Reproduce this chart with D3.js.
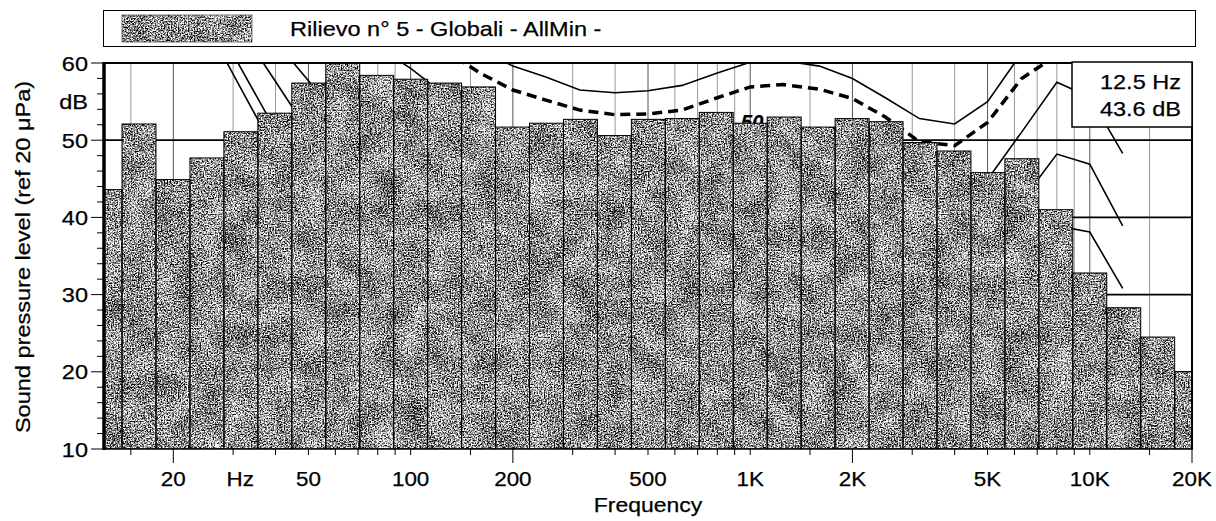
<!DOCTYPE html>
<html>
<head>
<meta charset="utf-8">
<script src="https://cdn.jsdelivr.net/npm/d3@7"></script>
<style>
  body { margin: 0; background: #fff; }
  svg { display: block; }
  text { font-family: "Liberation Sans", Arial, sans-serif; fill: #000; stroke: #000; stroke-width: 0.25px; }
</style>
</head>
<body>
<div id="chart"></div>
<script>
// 1/3 octave bands, levels in dB (ref 20 µPa)
const bandFreqs = [12.5, 16, 20, 25, 31.5, 40, 50, 63, 80, 100, 125, 160, 200, 250, 315, 400, 500, 630, 800,
  1000, 1250, 1600, 2000, 2500, 3150, 4000, 5000, 6300, 8000, 10000, 12500, 16000, 20000];
const bandLevels = [43.6, 52.1, 44.9, 47.7, 51.1, 53.5, 57.4, 60.2, 58.4, 57.9, 57.4, 56.9, 51.7, 52.2, 52.7, 50.6, 52.7, 52.8, 53.6,
  52.2, 53.0, 51.7, 52.8, 52.4, 49.7, 48.6, 45.8, 47.6, 41.0, 32.8, 28.3, 24.5, 20.0];

// reference contours (drawn behind the bars)
const contourFreqs = [20, 25, 31.5, 40, 50, 63, 80, 100, 125, 160, 200, 250, 315, 400, 500, 630, 800,
  1000, 1250, 1600, 2000, 2500, 3150, 4000, 5000, 6300, 8000, 10000, 12500];
const contourTop = [95, 90, 85, 80, 76, 72, 69, 66, 64, 61.8, 59.6, 58.2, 56.5, 56.15, 56.4, 57.1, 58.7,
  60.1, 60.3, 59.6, 58.0, 55.5, 52.8, 52.1, 55.0, 61.3, 68, 70, 67];
const contourDashed = [90, 85, 80, 75, 71, 68, 65.5, 63.5, 61.8, 58.7, 56.5, 55.2, 53.9, 53.3, 53.4, 53.9, 55.5,
  56.9, 57.2, 56.6, 55.4, 53.0, 49.8, 49.3, 52.3, 58.0, 61, 63, 61];
const contour40 = [90, 84, 78, 72, 68, 65, 62.1, 59.3, 56.0, 52, 48.5, 46.5, 45, 44, 44, 44.5, 45.5,
  47, 47.5, 47, 45.5, 43, 40, 39.5, 44.9, 51.05, 57.5, 55.6, 48.3];
const contour30 = [82, 76, 70, 62.8, 57.7, 52.4, 48, 44.5, 41.5, 39, 37, 35.5, 34.5, 34, 34, 34.5, 35.5,
  37, 37.5, 37, 35.5, 33, 30.5, 30, 35.5, 42.1, 48.2, 46.9, 38.9];
const contour20 = [78, 71, 64.5, 57.6, 51.1, 45, 40, 36, 33, 30, 28, 26.5, 25.5, 25, 25, 25.5, 26.5,
  28, 28.5, 28, 26.5, 24, 21.5, 21, 27, 33, 38.9, 38.1, 30.8];
const contour10 = [76, 67.3, 59.46, 51.3, 45, 39, 34, 30, 26, 23, 20.5, 19, 18, 17.5, 17.5, 18, 19,
  20, 20.5, 20, 18.5, 16, 13.5, 13, 18, 23.5, 28.5, 27, 20];
const contour0 = [73, 65, 56.85, 48.45, 42, 36, 31, 26.5, 22.5, 19, 16.5, 15, 14, 13.5, 13.5, 14, 15,
  16, 16.5, 16, 14.5, 12, 10, 10, 13.5, 17.5, 21.5, 20, 14];

const xTickMults = [1, 1.5, 2, 3, 4, 5, 6, 7, 8, 9];
const xLabelFreqs = [20, 31.5, 50, 100, 200, 500, 1000, 2000, 5000, 10000, 20000];
const xLabelTexts = ["20", "Hz", "50", "100", "200", "500", "1K", "2K", "5K", "10K", "20K"];
const yLabelValues = [10, 20, 30, 40, 50, 60];
const gridLevels = [20, 30, 40, 50];

const titleText = "Rilievo n° 5 - Globali - AllMin -";
const readout = ["12.5 Hz", "43.6 dB"];

const width = 1216, height = 521;
const plot = { left: 104, right: 1192, top: 63, bottom: 449 };

// the source font is a bit wider than Arial
function widen(sel, k = 1.12) {
  sel.each(function () {
    const w = this.getComputedTextLength();
    d3.select(this).attr("textLength", w * k).attr("lengthAdjust", "spacingAndGlyphs");
  });
}

const svg = d3.select("#chart").append("svg")
  .attr("width", width)
  .attr("height", height);

const x = d3.scaleLog().domain([12.5, 20000]).range([plot.left, plot.right]);
const y = d3.scaleLinear().domain([10, 60]).range([plot.bottom, plot.top]);

const defs = svg.append("defs");
defs.append("clipPath").attr("id", "plotClip")
  .append("rect")
  .attr("x", plot.left).attr("y", plot.top)
  .attr("width", plot.right - plot.left).attr("height", plot.bottom - plot.top);

// speckled print texture for the bars
const grain = defs.append("filter").attr("id", "grain")
  .attr("filterUnits", "userSpaceOnUse")
  .attr("x", 0).attr("y", 0).attr("width", width).attr("height", height)
  .attr("color-interpolation-filters", "sRGB");
grain.append("feTurbulence").attr("type", "fractalNoise").attr("baseFrequency", 0.7)
  .attr("numOctaves", 2).attr("seed", 11).attr("result", "fine");
grain.append("feColorMatrix").attr("in", "fine").attr("type", "matrix")
  .attr("values", "1 0 0 0 0  1 0 0 0 0  1 0 0 0 0  0 0 0 0 1").attr("result", "fineG");
grain.append("feTurbulence").attr("type", "fractalNoise").attr("baseFrequency", 0.04)
  .attr("numOctaves", 2).attr("seed", 3).attr("result", "coarse");
grain.append("feColorMatrix").attr("in", "coarse").attr("type", "matrix")
  .attr("values", "1 0 0 0 0  1 0 0 0 0  1 0 0 0 0  0 0 0 0 1").attr("result", "coarseG");
grain.append("feComposite").attr("in", "fineG").attr("in2", "coarseG").attr("operator", "arithmetic")
  .attr("k1", 0).attr("k2", 1).attr("k3", 0.2).attr("k4", -0.1).attr("result", "mix");
const ct = grain.append("feComponentTransfer").attr("in", "mix").attr("result", "contrast");
["feFuncR", "feFuncG", "feFuncB"].forEach(f =>
  ct.append(f).attr("type", "linear").attr("slope", 2.7).attr("intercept", -0.78));
grain.append("feComposite").attr("in", "contrast").attr("in2", "SourceGraphic").attr("operator", "in");

// legend strip
svg.append("rect")
  .attr("x", 103.5).attr("y", 10.5).attr("width", 1092).attr("height", 36)
  .attr("fill", "#fff").attr("stroke", "#000").attr("stroke-width", 1);
svg.append("rect")
  .attr("x", 122).attr("y", 15).attr("width", 130).attr("height", 27)
  .attr("fill", "#000").attr("filter", "url(#grain)");
svg.append("rect")
  .attr("x", 122).attr("y", 15).attr("width", 130).attr("height", 27)
  .attr("fill", "none").attr("stroke", "#555").attr("stroke-width", 0.8);
svg.append("text")
  .attr("x", 290).attr("y", 35.5)
  .style("font-size", "21px")
  .text(titleText)
  .call(widen);

const inner = svg.append("g").attr("clip-path", "url(#plotClip)");

// x tick positions: 1, 1.5, 2 ... 9 in each decade
const xTicks = [];
[10, 100, 1000, 10000].forEach(dec => xTickMults.forEach(m => {
  const f = m * dec;
  if (f >= 14 && f <= 20000) xTicks.push(f);
}));

// vertical grid
inner.append("g").selectAll("line")
  .data(xTicks)
  .join("line")
  .attr("x1", d => x(d)).attr("x2", d => x(d))
  .attr("y1", plot.top).attr("y2", plot.bottom)
  .attr("stroke", d => xLabelFreqs.includes(d) ? "#555" : "#999")
  .attr("stroke-width", 1);

// horizontal grid
inner.append("g").selectAll("line")
  .data(gridLevels)
  .join("line")
  .attr("x1", plot.left).attr("x2", plot.right)
  .attr("y1", d => y(d)).attr("y2", d => y(d))
  .attr("stroke", "#000")
  .attr("stroke-width", 1.8);

// contours
const line = d3.line().x(d => x(d[0])).y(d => y(d[1]));
const solidSeries = [contourTop, contour40, contour30, contour20, contour10, contour0];
inner.append("g").selectAll("path")
  .data(solidSeries)
  .join("path")
  .attr("d", s => line(contourFreqs.map((f, i) => [f, s[i]])))
  .attr("fill", "none")
  .attr("stroke", "#000")
  .attr("stroke-width", 1.6);
inner.append("path")
  .attr("d", line(contourFreqs.map((f, i) => [f, contourDashed[i]])))
  .attr("fill", "none")
  .attr("stroke", "#000")
  .attr("stroke-width", 3.5)
  .attr("stroke-dasharray", "10 6");
inner.append("text")
  .attr("x", x(1000) + 2).attr("y", 129)
  .attr("text-anchor", "middle")
  .style("font-size", "20px").style("font-weight", "bold").style("font-style", "italic")
  .text("50");

// bars
const bandData = bandFreqs.map((f, i) => {
  const n = Math.round(10 * Math.log10(f));
  return { f, level: bandLevels[i], lo: Math.pow(10, (n - 0.5) / 10), hi: Math.pow(10, (n + 0.5) / 10) };
});
inner.append("g").attr("filter", "url(#grain)")
  .selectAll("rect")
  .data(bandData)
  .join("rect")
  .attr("x", d => x(d.lo)).attr("width", d => x(d.hi) - x(d.lo))
  .attr("y", d => y(d.level)).attr("height", d => y(10) - y(d.level))
  .attr("fill", "#000");
inner.append("g")
  .selectAll("rect")
  .data(bandData)
  .join("rect")
  .attr("x", d => x(d.lo)).attr("width", d => x(d.hi) - x(d.lo))
  .attr("y", d => y(d.level)).attr("height", d => y(10) - y(d.level))
  .attr("fill", "none").attr("stroke", "#000").attr("stroke-width", 1);

// frame
svg.append("line").attr("x1", plot.left - 1).attr("x2", plot.right + 1)
  .attr("y1", plot.top).attr("y2", plot.top).attr("stroke", "#000").attr("stroke-width", 2);
svg.append("line").attr("x1", plot.right).attr("x2", plot.right)
  .attr("y1", plot.top).attr("y2", plot.bottom).attr("stroke", "#000").attr("stroke-width", 2);
svg.append("line").attr("x1", plot.left).attr("x2", plot.right + 1)
  .attr("y1", plot.bottom).attr("y2", plot.bottom).attr("stroke", "#000").attr("stroke-width", 1.5);
svg.append("line").attr("x1", plot.left).attr("x2", plot.left)
  .attr("y1", plot.top - 1).attr("y2", plot.bottom + 1).attr("stroke", "#000").attr("stroke-width", 3.5);

// y ticks
const yTicks = d3.range(10, 61, 2);
svg.append("g").selectAll("line")
  .data(yTicks)
  .join("line")
  .attr("x1", d => d % 10 === 0 ? plot.left - 13 : plot.left - 7)
  .attr("x2", plot.left)
  .attr("y1", d => y(d)).attr("y2", d => y(d))
  .attr("stroke", "#000").attr("stroke-width", 1);
svg.append("g").selectAll("text")
  .data(yLabelValues)
  .join("text")
  .attr("x", 88).attr("y", d => y(d)).attr("dy", "0.36em")
  .attr("text-anchor", "end")
  .style("font-size", "21px")
  .text(d => d)
  .call(widen);
svg.append("text")
  .attr("x", 88).attr("y", y(55)).attr("dy", "0.36em")
  .attr("text-anchor", "end")
  .style("font-size", "21px")
  .text("dB")
  .call(widen);
svg.append("text")
  .attr("transform", `translate(30, ${(plot.top + plot.bottom) / 2 + 1}) rotate(-90)`)
  .attr("text-anchor", "middle")
  .style("font-size", "21px")
  .text("Sound pressure level (ref 20 μPa)")
  .call(widen);

// x ticks
svg.append("g").selectAll("line")
  .data(xTicks)
  .join("line")
  .attr("x1", d => x(d)).attr("x2", d => x(d))
  .attr("y1", plot.bottom)
  .attr("y2", d => [20, 200, 2000, 20000].includes(d) ? plot.bottom + 14 : plot.bottom + 6)
  .attr("stroke", "#000").attr("stroke-width", 1);
svg.append("g").selectAll("text")
  .data(xLabelFreqs)
  .join("text")
  .attr("x", d => x(d)).attr("y", 486)
  .attr("text-anchor", "middle")
  .style("font-size", "20px")
  .text((d, i) => xLabelTexts[i])
  .call(widen);
svg.append("text")
  .attr("x", (plot.left + plot.right) / 2).attr("y", 512)
  .attr("text-anchor", "middle")
  .style("font-size", "20.5px")
  .text("Frequency")
  .call(widen);

// cursor readout box
svg.append("rect")
  .attr("x", 1072).attr("y", 62).attr("width", plot.right - 1072).attr("height", 65)
  .attr("fill", "#fff").attr("stroke", "#000").attr("stroke-width", 1.5);
svg.append("g").selectAll("text")
  .data(readout)
  .join("text")
  .attr("x", 1181).attr("y", (d, i) => 89 + i * 27)
  .attr("text-anchor", "end")
  .style("font-size", "21px")
  .text(d => d)
  .call(widen);
</script>
</body>
</html>
